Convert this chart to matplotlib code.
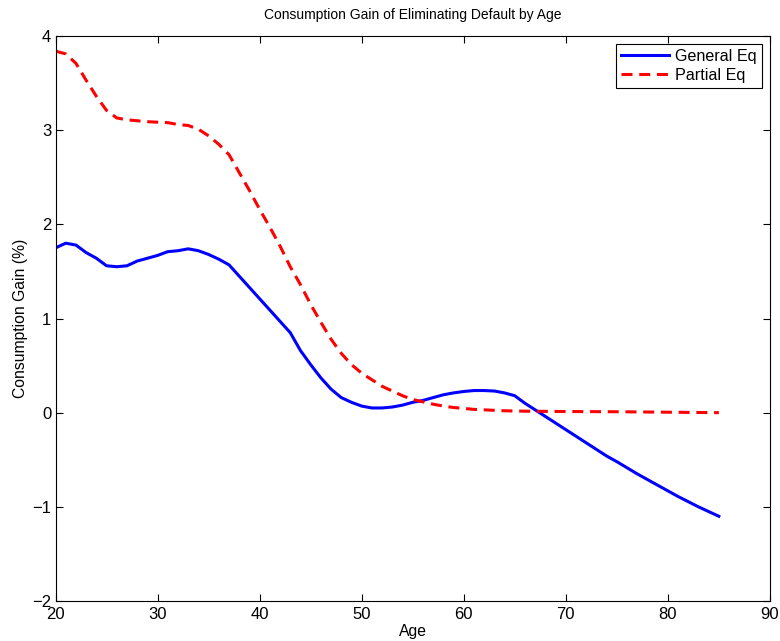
import matplotlib
matplotlib.use("Agg")
import matplotlib.pyplot as plt

plt.rcParams['font.family'] = ['Liberation Sans', 'DejaVu Sans']

ages = list(range(20, 86))
general_eq = [1.75, 1.80, 1.78, 1.70, 1.64, 1.56, 1.55, 1.56, 1.61, 1.64,
              1.67, 1.71, 1.72, 1.74, 1.72, 1.68, 1.63, 1.57, 1.45, 1.33,
              1.21, 1.09, 0.97, 0.85, 0.66, 0.51, 0.37, 0.25, 0.16, 0.11,
              0.07, 0.05, 0.05, 0.06, 0.08, 0.11, 0.13, 0.16, 0.19, 0.21,
              0.225, 0.235, 0.235, 0.23, 0.21, 0.18, 0.10, 0.03, -0.04, -0.11,
              -0.18, -0.25, -0.32, -0.39, -0.46, -0.52, -0.585, -0.65, -0.71, -0.77,
              -0.83, -0.89, -0.945, -1.00, -1.05, -1.10]
partial_eq = [3.84, 3.81, 3.71, 3.53, 3.36, 3.21, 3.13, 3.11, 3.10, 3.09,
              3.085, 3.08, 3.06, 3.05, 3.01, 2.94, 2.85, 2.74, 2.55, 2.36,
              2.16, 1.97, 1.77, 1.55, 1.36, 1.15, 0.96, 0.78, 0.63, 0.51,
              0.42, 0.35, 0.28, 0.23, 0.18, 0.14, 0.115, 0.09, 0.07, 0.055,
              0.045, 0.035, 0.03, 0.025, 0.02, 0.018, 0.016, 0.015, 0.014, 0.013,
              0.012, 0.012, 0.011, 0.011, 0.010, 0.010, 0.009, 0.008, 0.007, 0.006,
              0.005, 0.004, 0.003, 0.002, 0.001, 0.0]

xticks = [20, 30, 40, 50, 60, 70, 80, 90]
yticks = [-2, -1, 0, 1, 2, 3, 4]

fig = plt.figure(figsize=(7.8, 6.41), dpi=100)
ax = fig.add_axes([0.0712, 0.0624, 0.9158, 0.8814])
ax.plot(ages, general_eq, color='#0000ff', lw=2.2, label='General Eq')
ax.plot(ages, partial_eq, color='#ff0000', lw=2.2, dashes=(3.6, 2.2), label='Partial Eq')
ax.set_xlim(20, 90)
ax.set_ylim(-2, 4)
ax.set_xticks(xticks)
ax.set_yticks(yticks)
ax.set_yticklabels(['\u22122', '\u22121', '0', '1', '2', '3', '4'])
ax.tick_params(direction='in', top=True, right=True, labelsize=12, length=5, width=0.8)
ax.tick_params(axis='y', pad=3)
ax.tick_params(axis='x', pad=4)
for s in ax.spines.values():
    s.set_linewidth(0.8)
ax.set_xlabel('Age', fontsize=11.3, labelpad=2)
ax.set_ylabel('Consumption Gain (%)', fontsize=11.3, labelpad=3)
ax.set_title('Consumption Gain of Eliminating Default by Age', fontsize=10, pad=12)
leg = ax.legend(loc='upper right', fontsize=11.6, fancybox=False, framealpha=1,
                edgecolor='black', borderaxespad=0.5, handlelength=3.0,
                borderpad=0.3, labelspacing=0.25, handletextpad=0.4)
leg.get_frame().set_linewidth(0.8)
fig.savefig('out.png', dpi=100)
